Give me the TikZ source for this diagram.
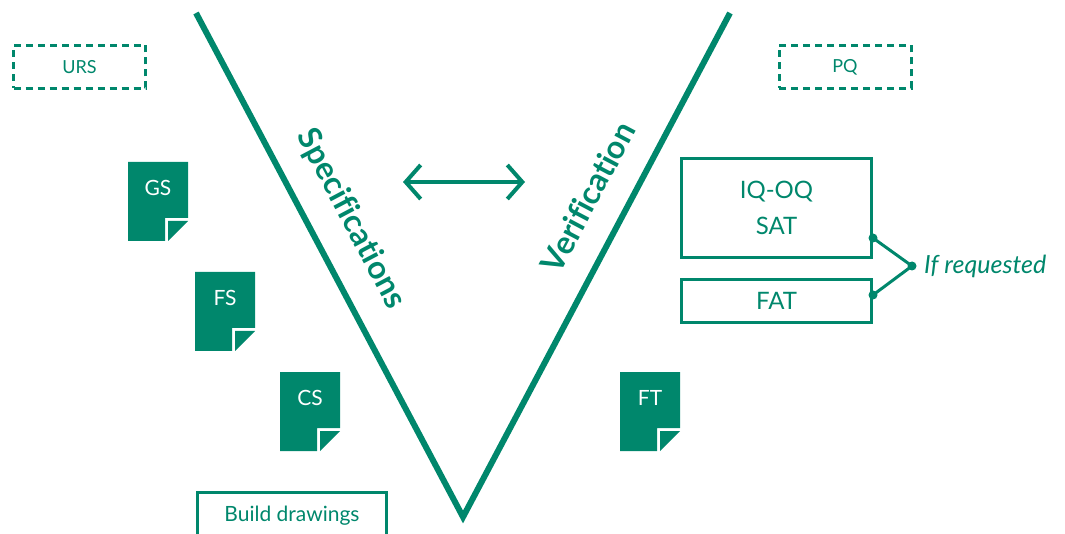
\documentclass[tikz,border=0pt]{standalone}
\usepackage{fontspec}
\setmainfont{Lato}[Ligatures=CommonOff]
\usetikzlibrary{arrows.meta,positioning,calc}
\definecolor{vgreen}{RGB}{0,135,108}
\tikzset{
  dashbox/.style={draw=vgreen, dash pattern=on 7pt off 5pt, line width=3pt,
    minimum width=132pt, minimum height=43pt, text=vgreen, font=\fontsize{18}{20}\selectfont},
  stagebox/.style={draw=vgreen, line width=3pt, minimum width=190pt, text=vgreen,
    align=center, font=\fontsize{24}{36}\selectfont},
  doclabel/.style={text=white, font=\fontsize{21}{24}\selectfont},
  vlabel/.style={text=vgreen, font=\fontsize{32}{34}\selectfont\bfseries},
  dotc/.style={circle, fill=vgreen, inner sep=0pt, minimum size=9pt},
}
\begin{document}
\begin{tikzpicture}[x=1pt, y=-1pt]
  \useasboundingbox (0,0) rectangle (1065,534);
  % the V
  \coordinate (vleft) at (196,13);
  \coordinate (vtip) at (463,517);
  \coordinate (vright) at (730,13);
  \draw [vgreen, line width=6pt, miter limit=20] (vleft) -- (vtip) -- (vright);
  \node [vlabel, rotate=-62.1] (spec) at (351,219) {Specifications};
  \node [vlabel, rotate=62.1] (verif) at (588,197) {Verification};
  \coordinate (arl) at (403,182);
  \coordinate (arr) at (525,182);
  \draw [vgreen, line width=4pt, {Straight Barb[length=15pt,width=34pt]}-{Straight Barb[length=15pt,width=34pt]}] (arl) -- (arr);
  % dashed boxes
  \node [dashbox] (urs) at (79.5,67) {URS};
  \node [dashbox] (pq) at (845,67) {PQ};
  % documents
  \foreach \nm/\px/\py/\lbl in {gs/128/162/GS, fs/195/272/FS, cs/280/372/CS, ft/620/372/FT} {
    \fill [vgreen] (\px,\py) -- ++(60,0) -- ++(0,56) -- ++(-23,0) -- ++(0,23) -- ++(-37,0) -- cycle;
    \fill [vgreen] (\px+40,\py+59) -- ++(20,0) -- ++(-20,20) -- cycle;
    \node [doclabel] (\nm) at (\px+30,\py+26) {\lbl};
  }
  % test boxes
  \node [stagebox, minimum height=99pt] (iq) at (776.5,208) {IQ-OQ\\SAT};
  \node [stagebox, minimum height=43pt] (fat) at (776.5,301) {FAT};
  \node [stagebox, minimum width=189pt, minimum height=48pt, font=\fontsize{21}{24}\selectfont] (build) at (292,516) {Build drawings};
  % if requested
  \node [dotc] (d1) at ([yshift=-30pt]iq.east) {};
  \node [dotc] (d2) at ([yshift=6pt]fat.east) {};
  \node [dotc] (jn) at (912,266) {};
  \node [right=4pt of jn, text=vgreen, font=\fontsize{25}{27}\selectfont\itshape] (req) {If requested};
  \draw [vgreen, line width=3pt] (d1.center) -- (jn.center) -- (d2.center);
\end{tikzpicture}
\end{document}
